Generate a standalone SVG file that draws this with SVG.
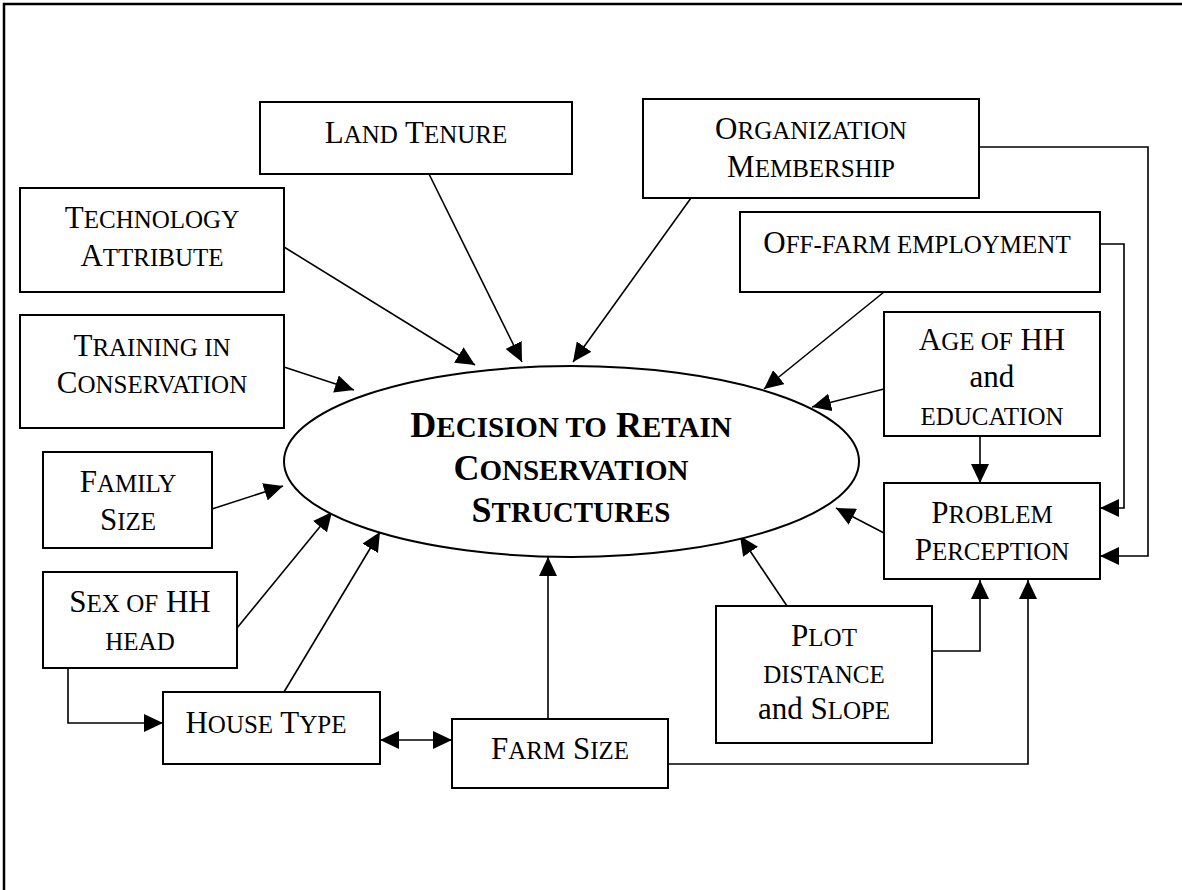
<svg xmlns="http://www.w3.org/2000/svg" width="1182" height="890" viewBox="0 0 1182 890">
<style>
.box{fill:#fff;stroke:#000;stroke-width:2}
.t{font-family:"Liberation Serif","Times New Roman",serif;fill:#000;text-anchor:middle;font-size:31px}
.s{font-size:25px}
.ti{font-weight:bold;font-size:36px}
.ti .s{font-size:29px}
.c{fill:none;stroke:#000;stroke-width:1.6;marker-end:url(#ah)}
.frame{fill:none;stroke:#000;stroke-width:2.5}
</style>
<defs>
<marker id="ah" markerUnits="userSpaceOnUse" markerWidth="19" markerHeight="18" refX="19" refY="9" orient="auto-start-reverse" viewBox="0 0 19 18">
<path d="M0,0 L19,9 L0,18 z" fill="#000"/>
</marker>
</defs>
<path class="frame" d="M4,892 V4 H1186"/>
<g id="connectors">
<path class="c" d="M284,247 L475,365"/>
<path class="c" d="M429,174 L522,362"/>
<path class="c" d="M691,198 L573,362"/>
<path class="c" d="M884,292 L764,389"/>
<path class="c" d="M284,367 L354,390"/>
<path class="c" d="M884,389 L812,407"/>
<path class="c" d="M212,509 L283,486"/>
<path class="c" d="M884,533 L836,508"/>
<path class="c" d="M237,628 L332,512"/>
<path class="c" d="M284,692 L380,532"/>
<path class="c" d="M787,606 L740,536"/>
<path class="c" d="M548,719 L548,557"/>
<path class="c" d="M68,668 V723 H163"/>
<path class="c" d="M380,740 H452" marker-start="url(#ah)"/>
<path class="c" d="M668,764 H1028 V580"/>
<path class="c" d="M932,651 H980 V580"/>
<path class="c" d="M980,436 V483"/>
<path class="c" d="M1100,244 H1124 V508 H1100"/>
<path class="c" d="M979,147 H1148 V556 H1100"/>
</g>
<g id="decision">
<ellipse cx="571.5" cy="461.5" rx="287.5" ry="95.5" fill="#fff" stroke="#000" stroke-width="2"/>
<text class="t ti" x="571" y="437">D<tspan class="s">ECISION TO</tspan> R<tspan class="s">ETAIN</tspan></text>
<text class="t ti" x="571" y="480">C<tspan class="s">ONSERVATION</tspan></text>
<text class="t ti" x="571" y="522">S<tspan class="s">TRUCTURES</tspan></text>
</g>
<g id="land-tenure">
<rect class="box" x="260" y="102" width="312" height="72"/>
<text class="t" x="416" y="143">L<tspan class="s">AND</tspan> T<tspan class="s">ENURE</tspan></text>
</g>
<g id="technology">
<rect class="box" x="20" y="188" width="264" height="104"/>
<text class="t" x="152" y="228">T<tspan class="s">ECHNOLOGY</tspan></text>
<text class="t" x="152" y="266">A<tspan class="s">TTRIBUTE</tspan></text>
</g>
<g id="organization">
<rect class="box" x="643" y="99" width="336" height="99"/>
<text class="t" x="811" y="139">O<tspan class="s">RGANIZATION</tspan></text>
<text class="t" x="811" y="177">M<tspan class="s">EMBERSHIP</tspan></text>
</g>
<g id="off-farm">
<rect class="box" x="740" y="212" width="360" height="80"/>
<text class="t" x="917" y="253">O<tspan class="s">FF-FARM EMPLOYMENT</tspan></text>
</g>
<g id="training">
<rect class="box" x="20" y="315" width="264" height="113"/>
<text class="t" x="152" y="356">T<tspan class="s">RAINING IN</tspan></text>
<text class="t" x="152" y="393">C<tspan class="s">ONSERVATION</tspan></text>
</g>
<g id="age">
<rect class="box" x="884" y="312" width="216" height="124"/>
<text class="t" x="992" y="350">A<tspan class="s">GE OF</tspan> HH</text>
<text class="t" x="992" y="387">and</text>
<text class="t" x="992" y="425"><tspan class="s">EDUCATION</tspan></text>
</g>
<g id="family">
<rect class="box" x="43" y="452" width="169" height="96"/>
<text class="t" x="128" y="492">F<tspan class="s">AMILY</tspan></text>
<text class="t" x="128" y="530">S<tspan class="s">IZE</tspan></text>
</g>
<g id="problem">
<rect class="box" x="884" y="483" width="216" height="96"/>
<text class="t" x="992" y="523">P<tspan class="s">ROBLEM</tspan></text>
<text class="t" x="992" y="560">P<tspan class="s">ERCEPTION</tspan></text>
</g>
<g id="sex">
<rect class="box" x="43" y="572" width="194" height="96"/>
<text class="t" x="140" y="612">S<tspan class="s">EX OF</tspan> HH</text>
<text class="t" x="140" y="650"><tspan class="s">HEAD</tspan></text>
</g>
<g id="plot">
<rect class="box" x="716" y="606" width="216" height="137"/>
<text class="t" x="824" y="646">P<tspan class="s">LOT</tspan></text>
<text class="t" x="824" y="683"><tspan class="s">DISTANCE</tspan></text>
<text class="t" x="824" y="719">and S<tspan class="s">LOPE</tspan></text>
</g>
<g id="house">
<rect class="box" x="163" y="692" width="217" height="72"/>
<text class="t" x="266" y="733">H<tspan class="s">OUSE</tspan> T<tspan class="s">YPE</tspan></text>
</g>
<g id="farm">
<rect class="box" x="452" y="719" width="216" height="69"/>
<text class="t" x="560" y="759">F<tspan class="s">ARM</tspan> S<tspan class="s">IZE</tspan></text>
</g>
</svg>
